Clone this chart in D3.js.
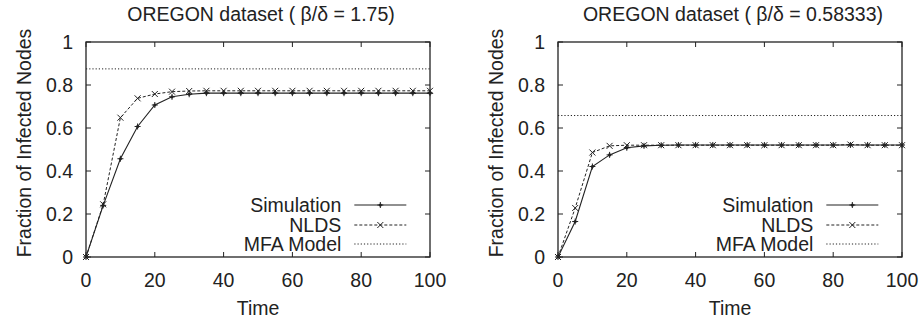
<!DOCTYPE html>
<html>
<head>
<meta charset="utf-8">
<script src="https://cdn.jsdelivr.net/npm/d3@7/dist/d3.min.js"></script>
<style>
  body { margin: 0; background: #fff; }
  svg text { font-family: "Liberation Sans", Arial, sans-serif; fill: #222; }
</style>
</head>
<body>
<svg id="chart" width="923" height="322"></svg>
<script>
// time steps shared by both panels
var times = [0,5,10,15,20,25,30,35,40,45,50,55,60,65,70,75,80,85,90,95,100];
var xTicks = [0,20,40,60,80,100];
var yTicks = [0,0.2,0.4,0.6,0.8,1];
var seriesNames = ['Simulation','NLDS','MFA Model'];

// left panel: beta/delta = 1.75
var simHigh  = [0,0.24,0.457,0.607,0.707,0.745,0.757,0.762,0.762,0.762,0.762,0.762,0.762,0.762,0.762,0.762,0.762,0.762,0.762,0.762,0.762];
var nldsHigh = [0,0.245,0.648,0.738,0.758,0.769,0.772,0.773,0.773,0.773,0.773,0.773,0.773,0.773,0.773,0.773,0.773,0.773,0.773,0.773,0.773];
var mfaHigh = 0.875;

// right panel: beta/delta = 0.58333
var simLow  = [0,0.165,0.421,0.475,0.508,0.517,0.52,0.521,0.521,0.521,0.521,0.521,0.521,0.521,0.521,0.521,0.521,0.521,0.521,0.521,0.521];
var nldsLow = [0,0.228,0.486,0.517,0.52,0.52,0.52,0.52,0.52,0.52,0.52,0.52,0.52,0.52,0.52,0.52,0.52,0.523,0.52,0.52,0.52];
var mfaLow = 0.658;

var panels = [
  { title: 'OREGON dataset ( \u03b2/\u03b4 = 1.75)', sim: simHigh, nlds: nldsHigh, mfa: mfaHigh, x0: 86, x1: 430 },
  { title: 'OREGON dataset ( \u03b2/\u03b4 = 0.58333)', sim: simLow, nlds: nldsLow, mfa: mfaLow, x0: 558, x1: 902 }
];

var svg = d3.select('#chart');
var plotTop = 42, plotBottom = 257;
var ink = '#222';

function plusPath(cx, cy, s) {
  return 'M' + (cx-s) + ',' + cy + 'L' + (cx+s) + ',' + cy + 'M' + cx + ',' + (cy-s) + 'L' + cx + ',' + (cy+s);
}
function crossPath(cx, cy, s) {
  return 'M' + (cx-s) + ',' + (cy-s) + 'L' + (cx+s) + ',' + (cy+s) + 'M' + (cx-s) + ',' + (cy+s) + 'L' + (cx+s) + ',' + (cy-s);
}

panels.forEach(function(p){
  var x = d3.scaleLinear().domain([0,100]).range([p.x0, p.x1]);
  var y = d3.scaleLinear().domain([0,1]).range([plotBottom, plotTop]);
  var g = svg.append('g');

  // inward ticks on all four sides, like gnuplot mirror ticks
  xTicks.forEach(function(t){
    g.append('line').attr('x1', x(t)).attr('x2', x(t)).attr('y1', plotBottom).attr('y2', plotBottom - 5).attr('stroke', ink);
    g.append('line').attr('x1', x(t)).attr('x2', x(t)).attr('y1', plotTop).attr('y2', plotTop + 5).attr('stroke', ink);
    g.append('text').attr('x', x(t)).attr('y', 287).attr('text-anchor', 'middle').attr('font-size', 19.5).text(t);
  });
  yTicks.forEach(function(t){
    g.append('line').attr('x1', p.x0).attr('x2', p.x0 + 5).attr('y1', y(t)).attr('y2', y(t)).attr('stroke', ink);
    g.append('line').attr('x1', p.x1).attr('x2', p.x1 - 5).attr('y1', y(t)).attr('y2', y(t)).attr('stroke', ink);
    g.append('text').attr('x', p.x0 - 13).attr('y', y(t) + 7).attr('text-anchor', 'end').attr('font-size', 19.5).text(d3.format('~g')(t));
  });
  g.append('rect').attr('x', p.x0).attr('y', plotTop).attr('width', p.x1 - p.x0).attr('height', plotBottom - plotTop)
    .attr('fill', 'none').attr('stroke', ink).attr('stroke-width', 1.3);

  // title and axis labels
  g.append('text').attr('x', (p.x0 + p.x1) / 2 + 3).attr('y', 21).attr('text-anchor', 'middle').attr('font-size', 19.5).text(p.title);
  g.append('text').attr('x', (p.x0 + p.x1) / 2).attr('y', 315).attr('text-anchor', 'middle').attr('font-size', 19.5).text('Time');
  g.append('text').attr('transform', 'translate(' + (p.x0 - 55) + ',143) rotate(-90)')
    .attr('text-anchor', 'middle').attr('font-size', 19.5).text('Fraction of Infected Nodes');

  // MFA model: flat dotted line
  g.append('line').attr('x1', x(0)).attr('x2', x(100)).attr('y1', y(p.mfa)).attr('y2', y(p.mfa))
    .attr('stroke', ink).attr('stroke-width', 1).attr('stroke-dasharray', '1.2,2');

  var line = d3.line().x(function(d, i){ return x(times[i]); }).y(function(d){ return y(d); });
  g.append('path').datum(p.nlds).attr('d', line).attr('fill', 'none').attr('stroke', ink).attr('stroke-width', 1).attr('stroke-dasharray', '3,2');
  g.append('path').datum(p.sim).attr('d', line).attr('fill', 'none').attr('stroke', ink).attr('stroke-width', 1.1);

  // markers
  g.selectAll('.mx').data(p.nlds).enter().append('path')
    .attr('d', function(d, i){ return crossPath(x(times[i]), y(d), 3); })
    .attr('stroke', ink).attr('stroke-width', 1);
  g.selectAll('.mp').data(p.sim).enter().append('path')
    .attr('d', function(d, i){ return plusPath(x(times[i]), y(d), 3); })
    .attr('stroke', ink).attr('stroke-width', 1);
  g.selectAll('.md').data(p.sim).enter().append('circle')
    .attr('cx', function(d, i){ return x(times[i]); }).attr('cy', function(d){ return y(d); }).attr('r', 1.6).attr('fill', ink);

  // legend, bottom right
  var lx = x(0) + (p.x1 - p.x0) * 0.78;
  var rows = [205, 225, 244];
  seriesNames.forEach(function(name, k){
    var ry = rows[k];
    g.append('text').attr('x', lx - 13).attr('y', ry + 7).attr('text-anchor', 'end').attr('font-size', 19.5).text(name);
    var ln = g.append('line').attr('x1', lx).attr('x2', lx + 52).attr('y1', ry).attr('y2', ry).attr('stroke', ink);
    var mid = lx + 26;
    if (k === 0) {
      ln.attr('stroke-width', 1.1);
      g.append('circle').attr('cx', mid).attr('cy', ry).attr('r', 1.6).attr('fill', ink);
      g.append('path').attr('d', plusPath(mid, ry, 3)).attr('stroke', ink);
    } else if (k === 1) {
      ln.attr('stroke-dasharray', '3,2');
      g.append('path').attr('d', crossPath(mid, ry, 3)).attr('stroke', ink);
    } else {
      ln.attr('stroke-dasharray', '1.2,2');
    }
  });
});
</script>
</body>
</html>
